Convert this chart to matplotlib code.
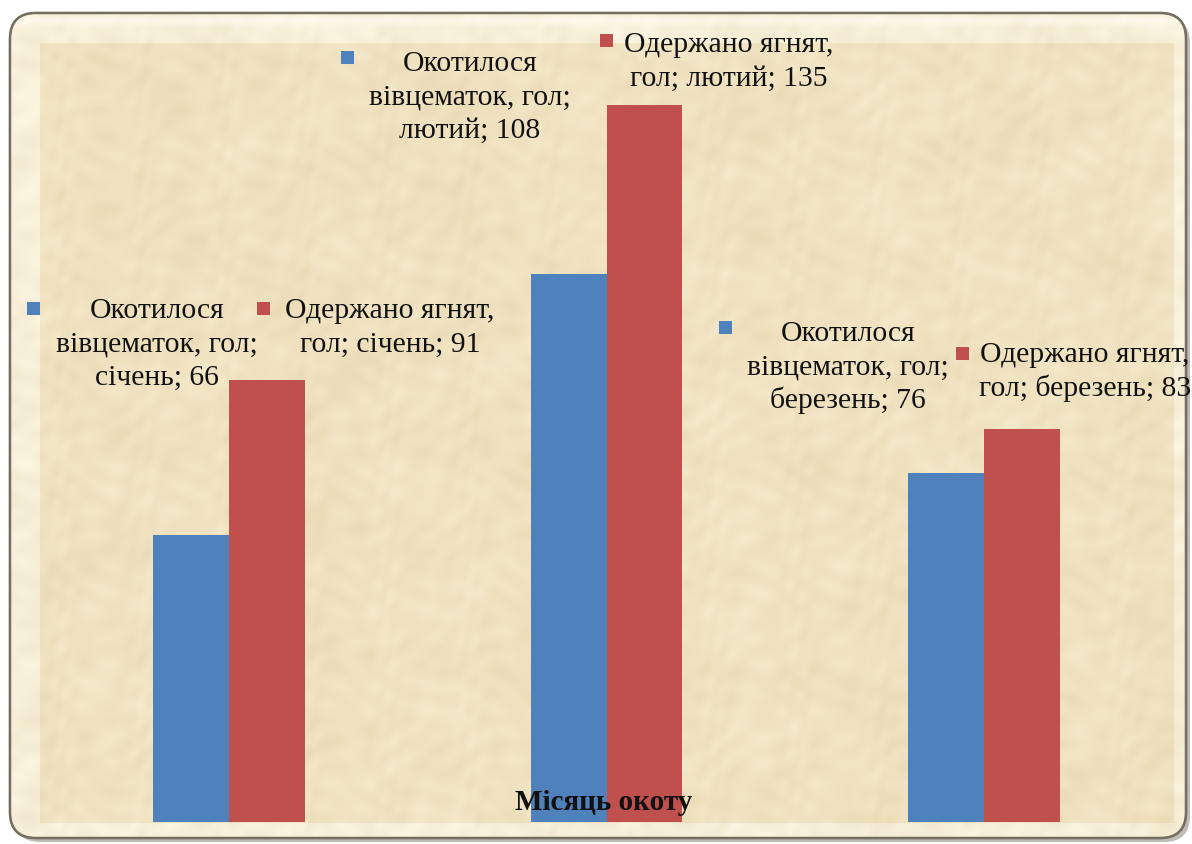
import numpy as np
import matplotlib
matplotlib.use("Agg")
import matplotlib.pyplot as plt
from matplotlib.patches import FancyBboxPatch, Rectangle

# ---------------- data ----------------
categories = ["січень", "лютий", "березень"]
series_names = ["Окотилося вівцематок, гол", "Одержано ягнят, гол"]
ewes = [66, 108, 76]      # Окотилося вівцематок, гол
lambs = [91, 135, 83]     # Одержано ягнят, гол
axis_title = "Місяць окоту"

colors = ["#4F81BD", "#C0504D"]
FONT = "Liberation Serif"

W, H = 1192, 844
fig = plt.figure(figsize=(W / 100, H / 100), dpi=100)
fig.patch.set_facecolor("white")

# background axes in pixel coordinates (y downward)
bg = fig.add_axes([0, 0, 1, 1])
bg.set_xlim(0, W)
bg.set_ylim(H, 0)
bg.axis("off")

fx0, fy0, fx1, fy1 = 10, 13, 1186, 838
rad = 26
shadow = FancyBboxPatch((fx0 + 4, fy0 + 4), fx1 - fx0, fy1 - fy0,
                        boxstyle=f"round,pad=0,rounding_size={rad}",
                        facecolor="#8c8478", edgecolor="none", alpha=0.55, zorder=0)
bg.add_patch(shadow)
frame = FancyBboxPatch((fx0, fy0), fx1 - fx0, fy1 - fy0,
                       boxstyle=f"round,pad=0,rounding_size={rad}",
                       facecolor="#F6ECD3", edgecolor="#7a7264", linewidth=1.6, zorder=1)
bg.add_patch(frame)

# deterministic parchment texture (fine mottling)
yy, xx = np.mgrid[0:H, 0:W].astype(float)
tex = (np.sin(xx / 9.0 + np.sin(yy / 17.0) * 2.1) * np.cos(yy / 8.0 + np.sin(xx / 23.0) * 1.7)
       + 0.7 * np.sin((xx + yy) / 6.0 + np.cos(xx / 13.0) * 2.5) * np.cos((xx - yy) / 11.0)
       + 0.8 * np.sin(xx / 47.0 + np.cos(yy / 33.0) * 2.0) * np.cos(yy / 39.0 + np.sin(xx / 61.0)))
tex = tex / np.abs(tex).max()
plot_l, plot_t, plot_r, plot_b = 40, 43, 1173, 822
inner = (xx >= plot_l) & (xx <= plot_r) & (yy >= plot_t) & (yy <= plot_b)
base = np.zeros((H, W, 3))
base[...] = np.array([247, 239, 216]) / 255.0
base[inner] = np.array([240, 226, 192]) / 255.0
hl = np.clip(1 - np.abs(yy - 20) / 7.0, 0, 1)[..., None]
img = base + tex[..., None] * np.array([6, 8, 11]) / 255.0
img = img * (1 - hl * 0.6) + hl * 0.6 * np.array([1.0, 0.99, 0.96])
img = np.clip(img, 0, 1)
im = bg.imshow(img, extent=(0, W, H, 0), zorder=2, interpolation="bilinear")
im.set_clip_path(frame)
border = FancyBboxPatch((fx0, fy0), fx1 - fx0, fy1 - fy0,
                        boxstyle=f"round,pad=0,rounding_size={rad}",
                        facecolor="none", edgecolor="#766e60", linewidth=1.8, zorder=3)
bg.add_patch(border)

# ---------------- bars ----------------
ax = fig.add_axes([plot_l / W, (H - plot_b) / H, (plot_r - plot_l) / W, (plot_b - plot_t) / H])
ax.patch.set_alpha(0)
x = np.arange(len(categories))
bw = 0.201
ax.bar(x - bw / 2, ewes, width=bw, color=colors[0], zorder=3)
ax.bar(x + bw / 2, lambs, width=bw, color=colors[1], zorder=3)
ax.set_xlim(-0.5, len(categories) - 0.5)
ax.set_ylim(20, 145)
for s in ax.spines.values():
    s.set_visible(False)
ax.set_xticks([])
ax.set_yticks([])

# ---------------- overlay for texts ----------------
ov = fig.add_axes([0, 0, 1, 1])
ov.set_xlim(0, W)
ov.set_ylim(H, 0)
ov.axis("off")
ov.patch.set_alpha(0)

def wrap_label(series_idx, cat, val):
    if series_idx == 0:
        return ["Окотилося", "вівцематок, гол;", f"{cat}; {val}"]
    return ["Одержано ягнят,", f"гол; {cat}; {val}"]

# layout: (text center x, first baseline y, key x, key y)
layout = {
    (0, 0): (157, 318, 27, 302),
    (1, 0): (390, 318, 257, 302),
    (0, 1): (470, 71, 341, 51),
    (1, 1): (729, 52, 600, 34),
    (0, 2): (848, 341, 719, 321),
    (1, 2): (1085, 362, 956, 347),
}
line_gap = 33.5
for si, vals in enumerate([ewes, lambs]):
    for ci, (cat, v) in enumerate(zip(categories, vals)):
        cx, by, kx, ky = layout[(si, ci)]
        for li, line in enumerate(wrap_label(si, cat, v)):
            ov.text(cx, by + li * line_gap, line, ha="center", va="baseline",
                    fontsize=21.3, family=FONT, color="#111111", zorder=5)
        ov.add_patch(Rectangle((kx, ky), 13, 13, facecolor=colors[si],
                               edgecolor="none", zorder=5))

ov.text(604, 810, axis_title, ha="center", va="baseline", fontsize=21,
        family=FONT, fontweight="bold", color="#111111", zorder=6)

fig.savefig("out.png", dpi=100)
